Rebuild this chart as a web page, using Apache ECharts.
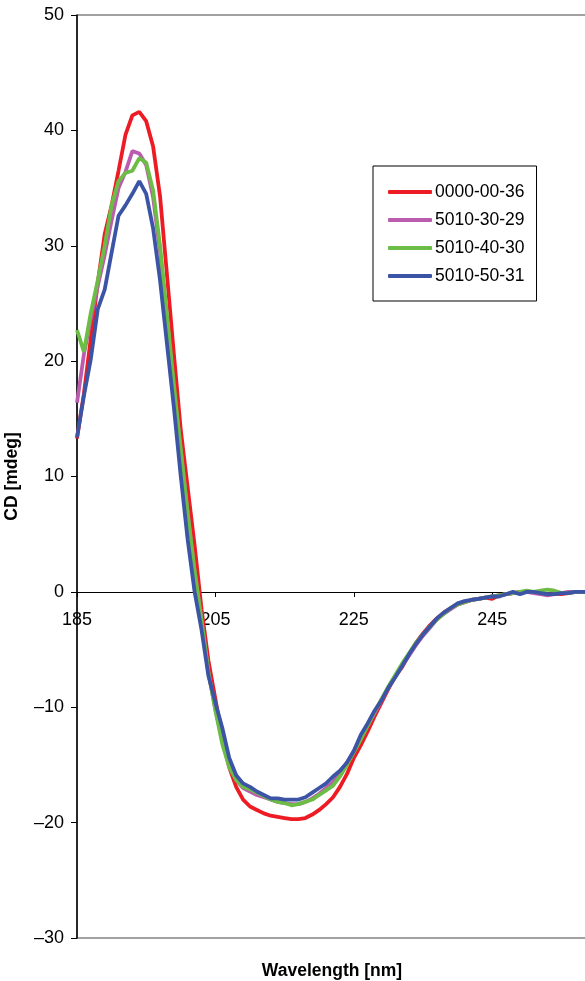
<!DOCTYPE html>
<html>
<head>
    <meta charset="UTF-8">
    <script type="text/javascript" src="https://cdn.jsdelivr.net/npm/echarts@6/dist/echarts.min.js"></script>
    <title>CD spectra</title>
    <style>
        html, body { margin: 0; padding: 0; background: #fff; }
        #chart { width: 585px; height: 981px; }
    </style>
</head>
<body>
    <div id="chart"></div>
    <script type="text/javascript">
    // wavelength grid (nm), one reading per nm
    var wavelength = [];
    for (var w = 185; w <= 260; w++) wavelength.push(w);

    var names = ['0000-00-36', '5010-30-29', '5010-40-30', '5010-50-31'];
    var colors = ['#ed1c24', '#bc5cae', '#6cbd45', '#3b54a5'];

    // CD [mdeg]
    var cd_0000_00_36 = [
        13.3, 17.2, 22.0, 26.8, 31.0, 33.5, 36.5, 39.6, 41.3, 41.6,
        40.8, 38.6, 34.3, 27.5, 20.6, 14.0, 9.0, 4.0, -1.5, -6.0,
        -9.3, -12.8, -15.2, -16.9, -18.0, -18.6, -18.9, -19.2, -19.4, -19.5,
        -19.6, -19.7, -19.7, -19.6, -19.3, -18.9, -18.4, -17.8, -16.9, -15.8,
        -14.4, -13.3, -12.1, -10.8, -9.6, -8.4, -7.3, -6.5, -5.4, -4.4,
        -3.6, -2.9, -2.3, -1.8, -1.4, -1.1, -0.9, -0.7, -0.6, -0.5,
        -0.6, -0.3, -0.2, -0.1, 0, 0, 0, -0.1, -0.2, -0.2,
        -0.2, -0.1, 0, 0, 0, 0
    ];
    var cd_5010_30_29 = [
        16.4, 20.6, 23.7, 26.5, 29.2, 32.2, 35.0, 36.4, 38.2, 38.0,
        37.0, 34.2, 29.5, 23.5, 17.5, 12.3, 6.8, 1.8, -2.5, -7.0,
        -10.2, -12.8, -15.0, -16.3, -17.0, -17.3, -17.6, -17.8, -18.0, -18.2,
        -18.3, -18.4, -18.4, -18.2, -17.9, -17.5, -17.0, -16.5, -15.7, -14.8,
        -13.8, -12.7, -11.6, -10.5, -9.4, -8.3, -7.3, -6.4, -5.5, -4.6,
        -3.8, -3.1, -2.4, -1.9, -1.5, -1.1, -0.9, -0.7, -0.6, -0.5,
        -0.4, -0.3, -0.2, -0.1, -0.1, 0, -0.1, -0.2, -0.3, -0.2,
        -0.1, 0, 0, 0, 0, 0
    ];
    var cd_5010_40_30 = [
        22.7, 20.8, 24.2, 27.0, 30.0, 33.5, 35.6, 36.3, 36.5, 37.6,
        37.2, 34.8, 30.0, 24.0, 18.0, 12.3, 6.8, 1.8, -2.5, -7.0,
        -10.3, -13.2, -15.2, -16.3, -16.9, -17.1, -17.4, -17.7, -18.0, -18.2,
        -18.3, -18.5, -18.4, -18.2, -18.0, -17.6, -17.2, -16.8, -16.0, -15.0,
        -13.9, -12.8, -11.6, -10.4, -9.3, -8.2, -7.2, -6.2, -5.3, -4.4,
        -3.7, -3.0, -2.4, -1.9, -1.4, -1.1, -0.9, -0.7, -0.6, -0.5,
        -0.4, -0.3, -0.2, -0.1, 0, 0.1, 0, 0.1, 0.2, 0.1,
        -0.1, -0.1, 0, 0, 0, 0
    ];
    var cd_5010_50_31 = [
        13.4, 17.0, 20.2, 24.5, 26.2, 29.4, 32.6, 33.5, 34.5, 35.6,
        34.5, 31.5, 27.0, 21.5, 16.0, 10.0, 4.5, 0, -3.3, -7.3,
        -9.6, -11.8, -14.4, -15.9, -16.6, -16.9, -17.3, -17.6, -17.9, -17.9,
        -18.0, -18.0, -18.0, -17.8, -17.4, -17.0, -16.6, -16.0, -15.5, -14.8,
        -13.8, -12.4, -11.4, -10.3, -9.4, -8.3, -7.4, -6.4, -5.4, -4.5,
        -3.7, -3.0, -2.3, -1.8, -1.4, -1.0, -0.8, -0.7, -0.6, -0.5,
        -0.4, -0.4, -0.2, 0, -0.2, 0, 0, -0.1, -0.2, -0.2,
        -0.1, -0.1, 0, 0, 0, 0
    ];
    var allCd = [cd_0000_00_36, cd_5010_30_29, cd_5010_40_30, cd_5010_50_31];

    var FONT = "'Liberation Sans', Arial, sans-serif";

    function pairs(ys) {
        return wavelength.map(function(x, i) { return [x, ys[i]]; });
    }

    var chart = echarts.init(document.getElementById('chart'));

    var series = [];
    for (var i = 0; i < names.length; i++) {
        series.push({
            name: names[i],
            type: 'line',
            showSymbol: false,
            symbol: 'none',
            smooth: false,
            lineStyle: { color: colors[i], width: 3.8 },
            itemStyle: { color: colors[i] },
            data: pairs(allCd[i])
        });
    }

    // x axis sits on the zero line: 346px above grid bottom (50..-30 over 923px)
    var option = {
        backgroundColor: '#fff',
        animation: false,
        textStyle: { fontFamily: FONT },
        grid: {
            left: 77,
            right: -11,
            top: 15,
            bottom: 43,
            outerBoundsMode: 'none',
            containLabel: false,
            show: true,
            borderColor: '#444',
            borderWidth: 1
        },
        legend: {
            orient: 'vertical',
            left: 373,
            top: 166,
            padding: [17, 12, 16, 15],
            itemGap: 10,
            itemWidth: 44,
            itemHeight: 4,
            icon: 'roundRect',
            borderColor: '#000',
            borderWidth: 1,
            textStyle: { fontFamily: FONT, fontSize: 17.5, color: '#000', padding: [0, 0, 0, -2] },
            data: names
        },
        xAxis: {
            type: 'value',
            position: 'bottom',
            offset: -346,
            min: 185,
            max: 260,
            interval: 20,
            name: 'Wavelength [nm]',
            nameLocation: 'middle',
            nameGap: 370,
            nameMoveOverlap: false,
            nameTextStyle: { fontFamily: FONT, fontSize: 17.5, fontWeight: 'bold', color: '#000', padding: [0, 9, 0, 0] },
            axisLine: { onZero: false, lineStyle: { color: '#000', width: 1 } },
            axisTick: { show: true, inside: false, length: 5, lineStyle: { color: '#000' } },
            axisLabel: { fontFamily: FONT, fontSize: 18, color: '#000', margin: 19, showMaxLabel: false },
            splitLine: { show: false }
        },
        yAxis: {
            type: 'value',
            min: -30,
            max: 50,
            interval: 10,
            name: 'CD [mdeg]',
            nameLocation: 'middle',
            nameRotate: 90,
            nameGap: 56,
            nameMoveOverlap: false,
            nameTextStyle: { fontFamily: FONT, fontSize: 17.5, fontWeight: 'bold', color: '#000' },
            axisLine: { show: true, lineStyle: { color: '#000', width: 1.5 } },
            axisTick: { show: true, inside: false, length: 6, lineStyle: { color: '#000' } },
            axisLabel: {
                fontFamily: FONT, fontSize: 18, color: '#000', margin: 13,
                formatter: function(v) { return String(v).replace('-', '\u2013'); }
            },
            splitLine: { show: false }
        },
        series: series
    };
    chart.setOption(option);
    </script>
</body>
</html>
